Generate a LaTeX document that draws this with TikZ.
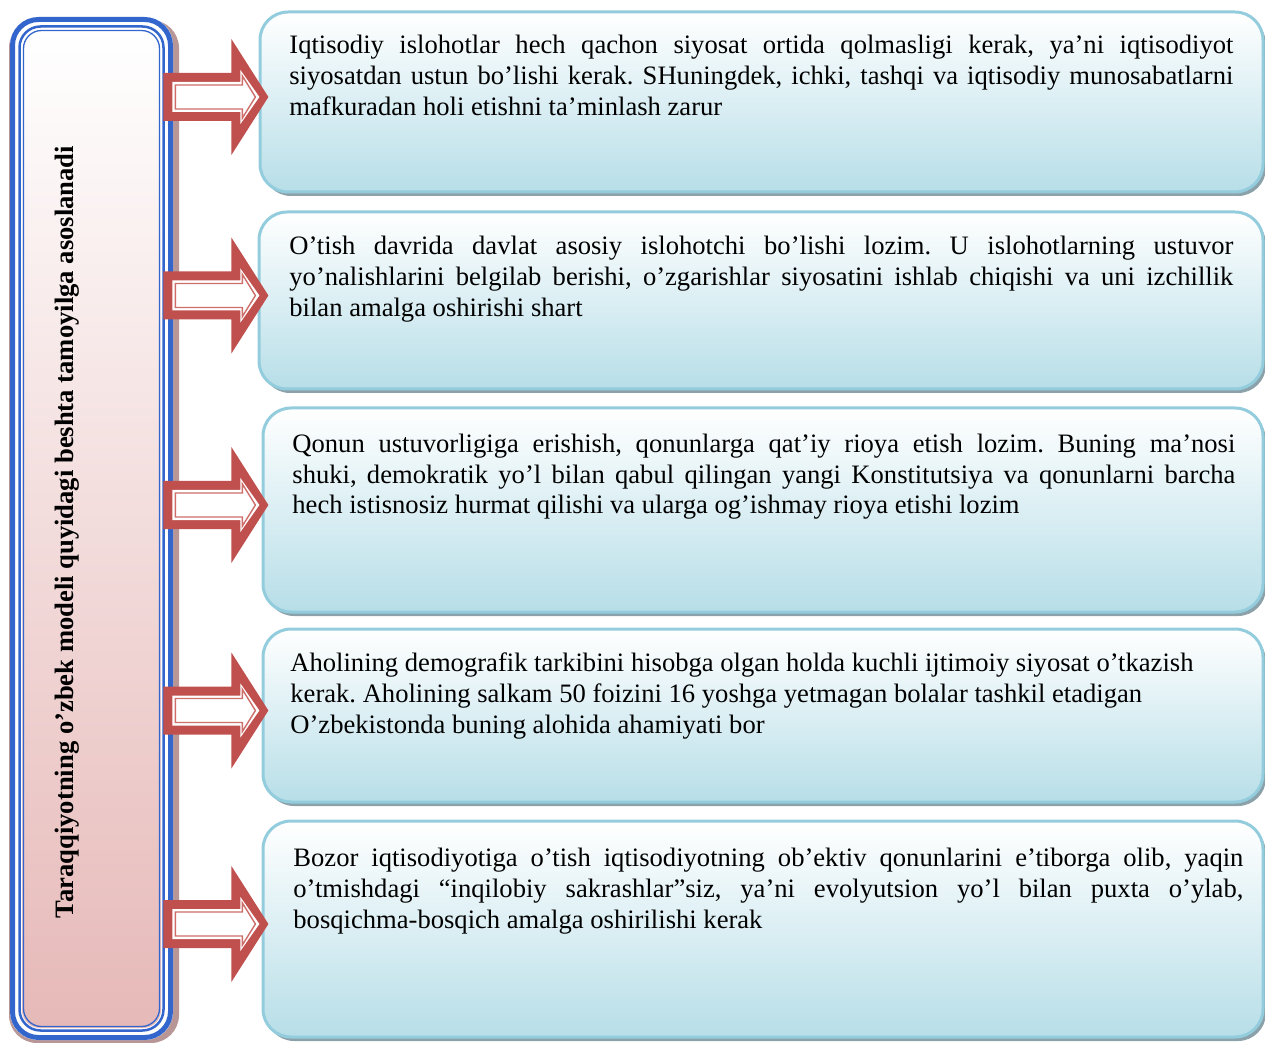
\documentclass[tikz,border=0pt]{standalone}
\usepackage{fontspec}
\setmainfont{Liberation Serif}
\usetikzlibrary{calc,shadows}
\definecolor{arrred}{RGB}{192,80,77}
\definecolor{arrthin}{RGB}{205,110,106}
\definecolor{boxline}{RGB}{147,205,221}
\definecolor{boxbot}{RGB}{183,222,232}
\definecolor{boxshadow}{RGB}{140,162,170}
\definecolor{lblue}{RGB}{51,102,204}
\definecolor{lpink}{RGB}{230,185,184}
\definecolor{lshadow}{RGB}{185,150,150}
\newdimen\tw
\newcommand\tline[1]{\hbox to \tw{#1}}
\newcommand\lline[1]{\hbox{#1}}
\frenchspacing
\begin{document}
\begin{tikzpicture}[x=0.5pt,y=-0.5pt,
  rbox/.style={draw=boxline, line width=1.5pt, rounded corners=14pt,
    top color=white, bottom color=boxbot, inner sep=0,
    general shadow={fill=boxshadow, shadow xshift=1.5pt, shadow yshift=-2pt}},
  txt/.style={inner sep=0, anchor=base west, font=\fontsize{13.3}{15.5}\selectfont},
  barrow/.pic={
    \fill[arrred] (0,-24) -- (68,-24) -- (68,-58) -- (105,0) -- (68,58) -- (68,24) -- (0,24) -- cycle;
    \fill[white] (9,-15) -- (77,-15) -- (77,-27) -- (96,0) -- (77,27) -- (77,15) -- (9,15) -- cycle;
    \draw[arrthin, line width=0.7pt, line join=miter] (12,-12) -- (79,-12) -- (79,-21) -- (92,0) -- (79,21) -- (79,12) -- (12,12) -- cycle;
  }]
\useasboundingbox (0,0) rectangle (1265,1043);

% right boxes
\node[rbox, minimum width=501.5pt, minimum height=90pt] (b1) at (761.5,102) {};
\node[rbox, minimum width=502pt, minimum height=88.5pt] (b2) at (761,300.5) {};
\node[rbox, minimum width=500pt, minimum height=102pt] (b3) at (763,510) {};
\node[rbox, minimum width=500pt, minimum height=86.5pt] (b4) at (763,715.5) {};
\node[rbox, minimum width=500pt, minimum height=108pt] (b5) at (763,929) {};

% left box
\fill[lshadow, rounded corners=14pt] (9,20) rectangle (179,1043);
\fill[white, rounded corners=14pt] (10,17) rectangle (173,1040);
\shade[top color=white, bottom color=lpink, rounded corners=9pt] (22,29) rectangle (161,1028);
\draw[lblue, line width=2.5pt, rounded corners=13pt] (12.5,19.5) rectangle (170.5,1037.5);
\draw[lblue, line width=1.25pt, rounded corners=10.5pt] (19.5,26.5) rectangle (163.5,1030.5);
\draw[lblue, line width=0.65pt, rounded corners=9pt] (23.5,30.5) rectangle (159.5,1026.5);
\node[minimum width=81.5pt, minimum height=511.5pt, inner sep=0] (L) at (91.5,528.5) {};
\node[rotate=90, inner sep=0, font=\fontsize{13.3}{15.5}\selectfont\bfseries] (title) at (67,532)
  {Taraqqiyotning o’zbek modeli quyidagi beshta tamoyilga asoslanadi};

% arrows
\pic at ($(L.east |- b1.west)+(-10,-5)$) {barrow};
\pic at ($(L.east |- b2.west)+(-10,-5)$) {barrow};
\pic at ($(L.east |- b3.west)+(-10,-5)$) {barrow};
\pic at ($(L.east |- b4.west)+(-10,-5)$) {barrow};
\pic at ($(L.east |- b5.west)+(-10,-5)$) {barrow};

% texts
\node[txt] (t1) at (289,54) {\vtop{\baselineskip=15.5pt \tw=472pt
  \tline{Iqtisodiy islohotlar hech qachon siyosat ortida qolmasligi kerak, ya’ni iqtisodiyot}
  \tline{siyosatdan ustun bo’lishi kerak. SHuningdek, ichki, tashqi va iqtisodiy munosabatlarni}
  \lline{mafkuradan holi etishni ta’minlash zarur}}};
\node[txt] (t2) at (289,255) {\vtop{\baselineskip=15.5pt \tw=472pt
  \tline{O’tish davrida davlat asosiy islohotchi bo’lishi lozim. U islohotlarning ustuvor}
  \tline{yo’nalishlarini belgilab berishi, o’zgarishlar siyosatini ishlab chiqishi va uni izchillik}
  \lline{bilan amalga oshirishi shart}}};
\node[txt] (t3) at (292,452) {\vtop{\baselineskip=15.5pt \tw=471.5pt
  \tline{Qonun ustuvorligiga erishish, qonunlarga qat’iy rioya etish lozim. Buning ma’nosi}
  \tline{shuki, demokratik yo’l bilan qabul qilingan yangi Konstitutsiya va qonunlarni barcha}
  \lline{hech istisnosiz hurmat qilishi va ularga og’ishmay rioya etishi lozim}}};
\node[txt] (t4) at (290,671) {\vtop{\baselineskip=15.5pt
  \lline{Aholining demografik tarkibini hisobga olgan holda kuchli ijtimoiy siyosat o’tkazish}
  \lline{kerak. Aholining salkam 50 foizini 16 yoshga yetmagan bolalar tashkil etadigan}
  \lline{O’zbekistonda buning alohida ahamiyati bor}}};
\node[txt] (t5) at (293,866) {\vtop{\baselineskip=15.5pt \tw=475pt
  \tline{Bozor iqtisodiyotiga o’tish iqtisodiyotning ob’ektiv qonunlarini e’tiborga olib, yaqin}
  \tline{o’tmishdagi “inqilobiy sakrashlar”siz, ya’ni evolyutsion yo’l bilan puxta o’ylab,}
  \lline{bosqichma-bosqich amalga oshirilishi kerak}}};
\end{tikzpicture}
\end{document}
